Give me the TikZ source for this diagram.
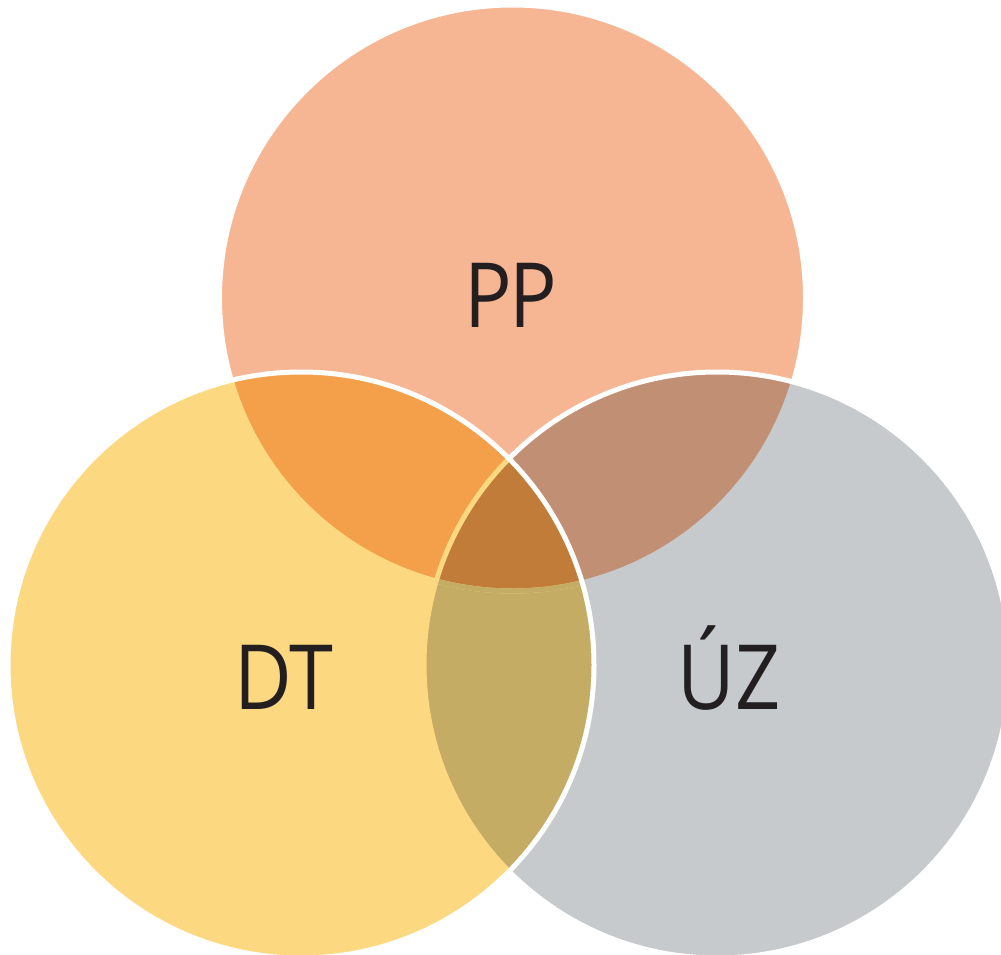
\documentclass[tikz,border=0pt]{standalone}
\usepackage{fontspec}
\setmainfont[FakeStretch=0.88]{Open Sans}
\definecolor{cPP}{HTML}{F6B693}
\definecolor{cDT}{HTML}{FCD980}
\definecolor{cUZ}{HTML}{C7CACD}
\definecolor{cPPDT}{HTML}{F49F4A}
\definecolor{cPPUZ}{HTML}{C08F74}
\definecolor{cDTUZ}{HTML}{C4AC65}
\definecolor{cMid}{HTML}{C07C38}
\definecolor{txt}{HTML}{231F20}
\tikzset{
  ring/.style={line width=5pt},
  lbl/.style={text=txt, anchor=base, inner sep=0pt, font=\fontsize{90}{90}\selectfont}
}
\begin{document}
\begin{tikzpicture}[x=1pt,y=-1pt]
\useasboundingbox (0,0) rectangle (1001,955);
\def\R{293}
\coordinate (pp) at (512.5,298);
\coordinate (dt) at (301,665);
\coordinate (uz) at (717,665);
% PP
\fill[cPP] (pp) circle (\R);
\draw[ring,white] (pp) circle (\R);
% UZ
\fill[cUZ] (uz) circle (\R);
\begin{scope}
  \clip (pp) circle (\R);
  \fill[cPPUZ] (uz) circle (\R);
\end{scope}
\begin{scope}
  \clip (uz) circle (\R);
  \draw[ring,cUZ] (pp) circle (\R);
\end{scope}
\draw[ring,white] (uz) circle (\R);
% DT
\fill[cDT] (dt) circle (\R);
\begin{scope}
  \clip (dt) circle (\R);
  \fill[cPPDT] (pp) circle (\R);
  \fill[cDTUZ] (uz) circle (\R);
  \begin{scope}
    \clip (pp) circle (\R);
    \fill[cMid] (uz) circle (\R);
  \end{scope}
  \draw[ring,cDT] (pp) circle (\R);
  \begin{scope}
    \clip (uz) circle (\R);
    \draw[ring,cDTUZ] (pp) circle (\R);
  \end{scope}
  \draw[ring,cDT] (uz) circle (\R);
\end{scope}
\draw[ring,white] (dt) circle (\R);
% labels
\node[lbl] (lPP) at (510.5,327) {P\kern-3ptP};
\node[lbl] (lDT) at (284,709) {DT};
\node[lbl] (lUZ) at (729,709) {ÚZ};
\end{tikzpicture}
\end{document}
